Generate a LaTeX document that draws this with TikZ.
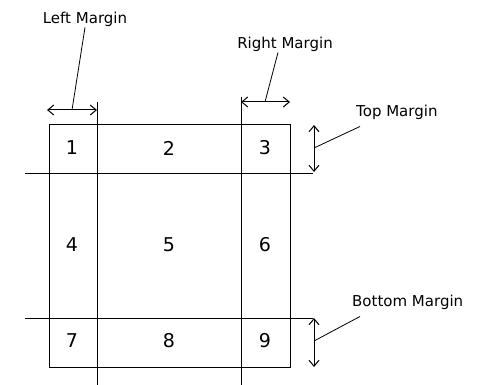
\documentclass[tikz,border=0pt]{standalone}
\usepackage{fontspec}
\setmainfont{DejaVu Sans}
\usetikzlibrary{arrows.meta}
\tikzset{
%Define standard arrow tip
>={Straight Barb[length=6pt,width=10pt]},
%Define styles for the page lines and the labels
page line/.style={line width=1pt},
margin arrow/.style={<->, line width=1pt},
leader line/.style={line width=0.8pt},
label text/.style={font=\fontsize{15}{18}\selectfont, inner sep=1pt},
cell text/.style={font=\fontsize{19}{22}\selectfont},
}

\begin{document}
\begin{tikzpicture}[x=1pt,y=-1pt]
\useasboundingbox (0,0) rectangle (487,385);

% page
\draw[page line] (49,125) rectangle (290,367);

% margin lines
\draw[page line] (97,102) -- (97,385);
\draw[page line] (241,97) -- (241,385);
\draw[page line] (25,173) -- (313,173);
\draw[page line] (25,318) -- (313,318);

% cells
\node[cell text] (c1) at (72,148) {1};
\node[cell text] (c2) at (169,148) {2};
\node[cell text] (c3) at (265,148) {3};
\node[cell text] (c4) at (72,245) {4};
\node[cell text] (c5) at (169,245) {5};
\node[cell text] (c6) at (265,245) {6};
\node[cell text] (c7) at (72,341) {7};
\node[cell text] (c8) at (169,341) {8};
\node[cell text] (c9) at (265,341) {9};

% left margin
\coordinate (lm) at (72,110);
\draw[margin arrow] (47,110) -- (97,110);
\node[label text] (lmtext) at (85,19) {Left Margin};
\draw[leader line] (lm) -- (lmtext.south);

% right margin
\coordinate (rm) at (265,102);
\draw[margin arrow] (241,102) -- (290,102);
\node[label text] (rmtext) at (285,44) {Right Margin};
\draw[leader line] (rm) -- ([xshift=-7pt]rmtext.south);

% top margin
\coordinate (tm) at (314,148);
\draw[margin arrow] (314,125) -- (314,172);
\node[label text, anchor=west] (tmtext) at (355,112) {Top Margin};
\draw[leader line] (tm) -- ([shift={(5,6)}]tmtext.south west);

% bottom margin
\coordinate (bm) at (314,341);
\draw[margin arrow] (314,318) -- (314,367);
\node[label text, anchor=west] (bmtext) at (351,302) {Bottom Margin};
\draw[leader line] (bm) -- ([shift={(9,6)}]bmtext.south west);

\end{tikzpicture}
\end{document}
